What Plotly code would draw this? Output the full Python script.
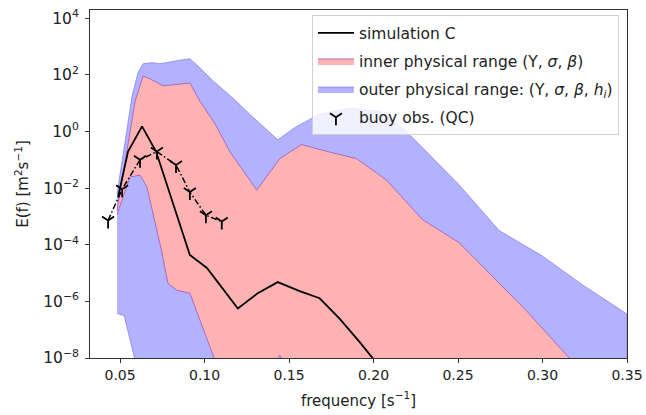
import numpy as np
import plotly.graph_objects as go

# ---- data ----
# simulation C
sim_f = [0.0488, 0.0547, 0.0630, 0.0713, 0.0913, 0.1014, 0.1197, 0.1315, 0.1433,
         0.1563, 0.1681, 0.1799, 0.1917, 0.2047]
sim_log = [-2.32, -0.71, 0.18, -0.71, -4.36, -4.82, -6.25, -5.71, -5.32,
           -5.64, -5.89, -6.61, -7.43, -8.39]

# buoy observations (QC)
buoy_f = [0.0429, 0.0512, 0.0618, 0.0718, 0.0831, 0.0913, 0.1008, 0.1102]
buoy_log = [-3.14, -2.04, -1.00, -0.71, -1.18, -2.14, -2.96, -3.18]

# inner physical range (upper / lower bounds)
inner_up_f = [0.0482, 0.0589, 0.0636, 0.0677, 0.0754, 0.0913, 0.0972, 0.1061, 0.1149,
              0.1309, 0.1445, 0.1574, 0.1728, 0.1899, 0.2076, 0.2289, 0.2507, 0.2684,
              0.2903, 0.3180, 0.3285]
inner_up_log = [-2.79, 1.07, 1.96, 1.86, 1.61, 1.71, 1.07, 0.29, -0.71,
                -2.07, -0.96, -0.46, -0.71, -0.96, -1.71, -3.11, -3.93, -5.00,
                -6.32, -8.14, -8.75]
inner_lo_f = [0.0482, 0.0559, 0.0618, 0.0659, 0.0689, 0.0748, 0.0783, 0.0836, 0.0913,
              0.0972, 0.1061, 0.1267, 0.1421, 0.1445, 0.1468, 0.2153, 0.3285]
inner_lo_log = [-2.93, -1.61, -1.54, -1.96, -2.75, -4.29, -5.36, -5.61, -5.71,
                -6.68, -8.07, -8.60, -8.15, -7.90, -8.15, -9.00, -9.00]

# outer physical range (upper / lower bounds)
outer_up_f = [0.0482, 0.0571, 0.0606, 0.0636, 0.0689, 0.0736, 0.0837, 0.0913, 0.0972,
              0.1049, 0.1167, 0.1267, 0.1433, 0.1545, 0.1681, 0.1858, 0.2035, 0.2182,
              0.2301, 0.2507, 0.2743, 0.2997, 0.3233, 0.3500]
outer_up_log = [-2.21, 1.25, 2.07, 2.39, 2.43, 2.39, 2.50, 2.57, 2.25,
                1.79, 1.18, 0.61, -0.29, 0.18, 0.61, 0.82, 0.71, 0.07,
                -0.64, -1.89, -3.50, -4.39, -5.40, -6.45]
outer_lo_f = [0.0482, 0.0524, 0.0594, 0.0677, 0.3500]
outer_lo_log = [-6.43, -6.50, -8.21, -9.00, -9.00]

ytick_exp = [4, 2, 0, -2, -4, -6, -8]
xtick_vals = [0.05, 0.10, 0.15, 0.20, 0.25, 0.30, 0.35]


def band(up_f, up_log, lo_f, lo_log):
    xs = list(up_f) + list(lo_f)[::-1]
    ys = [10.0 ** v for v in list(up_log) + list(lo_log)[::-1]]
    return xs, ys


fig = go.Figure()

ox, oy = band(outer_up_f, outer_up_log, outer_lo_f, outer_lo_log)
fig.add_trace(go.Scatter(
    x=ox, y=oy, mode="lines", fill="toself",
    fillcolor="rgb(178,178,255)",
    line=dict(color="rgba(120,110,235,0.8)", width=0.8),
    name="outer physical range: (Υ, <i>σ</i>, <i>β</i>, <i>h<sub>i</sub></i>)",
    legendrank=3, legendgroup="c", hoverinfo="skip"))

ix, iy = band(inner_up_f, inner_up_log, inner_lo_f, inner_lo_log)
fig.add_trace(go.Scatter(
    x=ix, y=iy, mode="lines", fill="toself",
    fillcolor="rgb(255,178,178)",
    line=dict(color="rgba(160,90,200,0.85)", width=1),
    name="inner physical range (Υ, <i>σ</i>, <i>β</i>)",
    legendrank=2, legendgroup="b", hoverinfo="skip"))

fig.add_trace(go.Scatter(
    x=sim_f, y=[10.0 ** v for v in sim_log], mode="lines",
    line=dict(color="black", width=1.8),
    name="simulation C", legendrank=1, legendgroup="a"))

buoy_y = [10.0 ** v for v in buoy_log]
fig.add_trace(go.Scatter(
    x=buoy_f, y=buoy_y, mode="lines",
    line=dict(color="black", width=1.5, dash="6px,2.5px,1.5px,2.5px"),
    showlegend=False, hoverinfo="skip"))
fig.add_trace(go.Scatter(
    x=buoy_f, y=buoy_y, mode="markers",
    marker=dict(symbol="y-down", size=10, color="black",
                line=dict(color="black", width=1.8)),
    name="buoy obs. (QC)", legendrank=4, legendgroup="d"))

axis_common = dict(showline=True, mirror=True, linecolor="#333", linewidth=1,
                   ticks="outside", ticklen=4, tickcolor="#333", showgrid=False,
                   zeroline=False)

fig.update_xaxes(range=[0.0322, 0.35], tickvals=xtick_vals,
                 ticktext=[f"{v:.2f}" for v in xtick_vals],
                 tickfont=dict(size=14, color="#222"),
                 title=dict(text="frequency [s<sup>−1</sup>]", font=dict(size=15, color="#222"),
                            standoff=13),
                 **axis_common)
fig.update_yaxes(type="log", range=[-8, 4.29],
                 tickvals=[10.0 ** e for e in ytick_exp],
                 ticktext=[f"10<sup>{str(e).replace('-', '−')}</sup>" for e in ytick_exp],
                 tickfont=dict(size=15.5, color="#222"), ticklabelstandoff=3,
                 title=dict(text="E(f) [m<sup>2</sup>s<sup>−1</sup>]", font=dict(size=15, color="#222"),
                            standoff=10),
                 **axis_common)

fig.update_layout(
    width=646, height=415,
    margin=dict(l=90, r=19, t=10, b=57, autoexpand=False),
    paper_bgcolor="white", plot_bgcolor="white",
    font=dict(family="DejaVu Sans", size=14, color="#222"),
    legend=dict(x=0.985, y=0.985, xanchor="right", yanchor="top",
                bgcolor="rgba(255,255,255,0.8)", bordercolor="#d0d0d0", borderwidth=1,
                font=dict(size=15.5), tracegroupgap=5, traceorder="grouped",
                itemwidth=36),
    showlegend=True,
)

fig.write_html("out.html", config={"displayModeBar": False},
               post_script="document.body.style.margin='0';")
